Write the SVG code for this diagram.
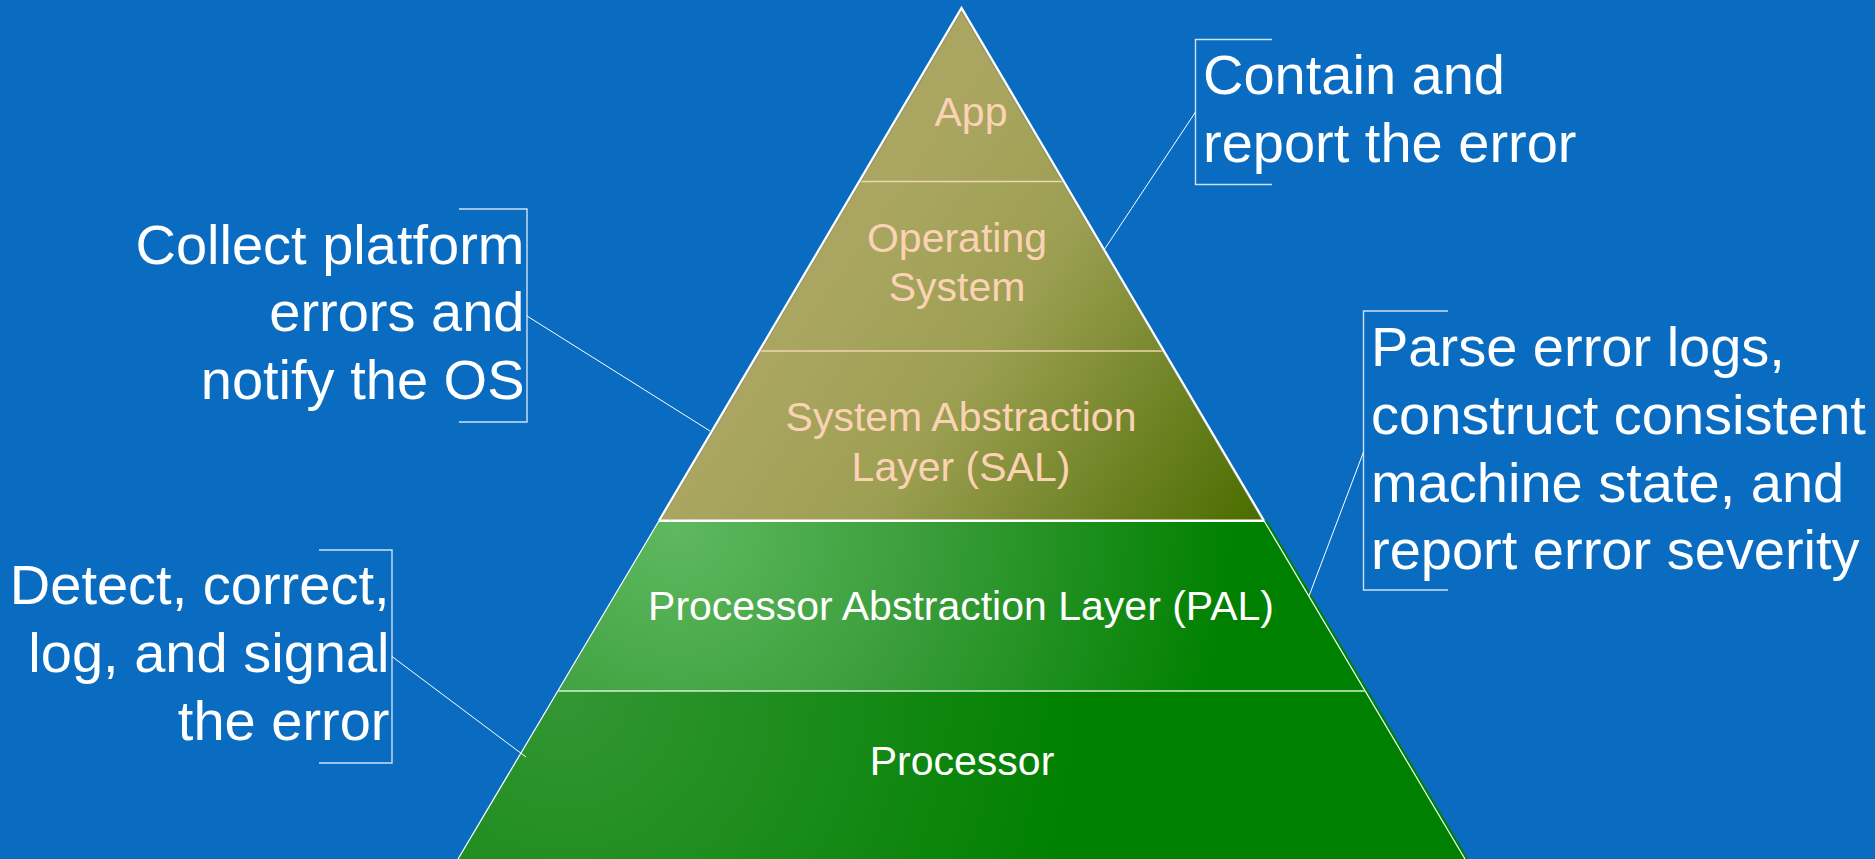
<svg xmlns="http://www.w3.org/2000/svg" width="1875" height="859" viewBox="0 0 1875 859">
  <defs>
    <!-- olive shading for the upper (software) tiers -->
    <linearGradient id="oliveShade" gradientUnits="userSpaceOnUse" x1="850" y1="250" x2="1250" y2="530">
      <stop offset="0" stop-color="#aaa661"/>
      <stop offset="0.35" stop-color="#9c9f52"/>
      <stop offset="1" stop-color="#4a6d00"/>
    </linearGradient>
    <!-- green shading for the firmware tier, brightest at its upper left corner -->
    <radialGradient id="palShade" gradientUnits="userSpaceOnUse" cx="675" cy="525" r="560">
      <stop offset="0" stop-color="#5fb95f"/>
      <stop offset="0.45" stop-color="#3a9d3a"/>
      <stop offset="1" stop-color="#008000"/>
    </radialGradient>
    <!-- green shading for the hardware tier -->
    <radialGradient id="cpuShade" gradientUnits="userSpaceOnUse" cx="565" cy="695" r="520">
      <stop offset="0" stop-color="#339633"/>
      <stop offset="1" stop-color="#008000"/>
    </radialGradient>
    <style>
      .tier-label { font-family: "Liberation Sans", Arial, sans-serif; font-size: 41px; text-anchor: middle; }
      .peach { fill: #fcd2b4; }
      .white { fill: #ffffff; }
      .note { font-family: "Liberation Sans", Arial, sans-serif; font-size: 56px; fill: #ffffff; }
      .note-r { text-anchor: end; }
      .bracket { fill: none; stroke: #cfe0f2; stroke-width: 1.4; }
      .leader { fill: none; stroke: #ffffff; stroke-width: 1; }
      .divider-peach { stroke: #f2d4b0; stroke-width: 1.6; }
    </style>
  </defs>

  <!-- backdrop -->
  <rect width="1875" height="859" fill="#0a6cc1"/>

  <!-- pyramid tiers, top to bottom -->
  <g id="layer-app">
    <polygon points="961.5,8 1063.9,181.5 859.1,181.5" fill="url(#oliveShade)"/>
    <text class="tier-label peach" x="971" y="126">App</text>
  </g>
  <g id="layer-os">
    <polygon points="859.1,181.5 1063.9,181.5 1163.9,351 759.1,351" fill="url(#oliveShade)"/>
    <text class="tier-label peach" x="957" y="252">Operating</text>
    <text class="tier-label peach" x="957" y="301">System</text>
  </g>
  <g id="layer-sal">
    <polygon points="759.1,351 1163.9,351 1264,520.7 659,520.7" fill="url(#oliveShade)"/>
    <text class="tier-label peach" x="961" y="431">System Abstraction</text>
    <text class="tier-label peach" x="961" y="481">Layer (SAL)</text>
  </g>
  <g id="layer-pal">
    <polygon points="659,520.7 1264,520.7 1364.5,691 558.5,691" fill="url(#palShade)"/>
    <text class="tier-label white" x="961" y="620">Processor Abstraction Layer (PAL)</text>
  </g>
  <g id="layer-processor">
    <polygon points="558.5,691 1364.5,691 1465,859 458,859" fill="url(#cpuShade)"/>
    <text class="tier-label white" x="962" y="775">Processor</text>
  </g>

  <!-- tier dividers and pyramid outline -->
  <g id="pyramid-edges">
    <line class="divider-peach" x1="859.1" y1="181.5" x2="1063.9" y2="181.5"/>
    <line class="divider-peach" x1="759.1" y1="351" x2="1163.9" y2="351"/>
    <line x1="558.5" y1="691" x2="1364.5" y2="691" stroke="#d6efd6" stroke-width="1.3"/>
    <!-- faint inner shade along the upper slopes -->
    <polyline points="661.5,519 961.5,11.5 1261.5,519" fill="none" stroke="#8a8a70" stroke-width="1.2" stroke-opacity="0.6"/>
    <polyline points="659,520.7 961.5,8 1264,520.7" fill="none" stroke="#ffffff" stroke-width="2.2" stroke-linejoin="miter"/>
    <line x1="659" y1="520.7" x2="1264" y2="520.7" stroke="#ffffff" stroke-width="2.6"/>
    <line x1="659" y1="520.7" x2="458" y2="859" stroke="#ffffff" stroke-width="1.2"/>
    <line x1="1265.5" y1="520.7" x2="1466.5" y2="859" stroke="#008000" stroke-width="3"/>
    <line x1="1264" y1="520.7" x2="1465" y2="859" stroke="#f4fff4" stroke-width="1.2"/>
  </g>

  <!-- callouts -->
  <g id="note-contain">
    <polyline class="bracket" points="1272,39.5 1195.5,39.5 1195.5,184.5 1272,184.5"/>
    <text class="note" x="1203" y="93.5">Contain and</text>
    <text class="note" x="1203" y="162">report the error</text>
  </g>
  <g id="note-parse">
    <polyline class="bracket" points="1448,311 1363.5,311 1363.5,590 1448,590"/>
    <text class="note" x="1371" y="366">Parse error logs,</text>
    <text class="note" x="1371" y="434">construct consistent</text>
    <text class="note" x="1371" y="502">machine state, and</text>
    <text class="note" x="1371" y="569">report error severity</text>
  </g>
  <g id="note-collect">
    <polyline class="bracket" points="459,209 527,209 527,422 459,422"/>
    <text class="note note-r" x="524.5" y="263.5">Collect platform</text>
    <text class="note note-r" x="524.5" y="331">errors and</text>
    <text class="note note-r" x="524.5" y="399">notify the OS</text>
  </g>
  <g id="note-detect">
    <polyline class="bracket" points="319,550 392,550 392,763 319,763"/>
    <text class="note note-r" x="389.5" y="604">Detect, correct,</text>
    <text class="note note-r" x="389.5" y="672">log, and signal</text>
    <text class="note note-r" x="389.5" y="740">the error</text>
  </g>

  <!-- leader lines from callouts to tiers -->
  <g id="connectors">
    <line class="leader" x1="1195.5" y1="112" x2="1104" y2="250"/>
    <line class="leader" x1="1363.5" y1="452" x2="1309" y2="596"/>
    <line class="leader" x1="527" y1="316" x2="710" y2="431"/>
    <line class="leader" x1="392" y1="656.5" x2="526" y2="757"/>
  </g>
</svg>
